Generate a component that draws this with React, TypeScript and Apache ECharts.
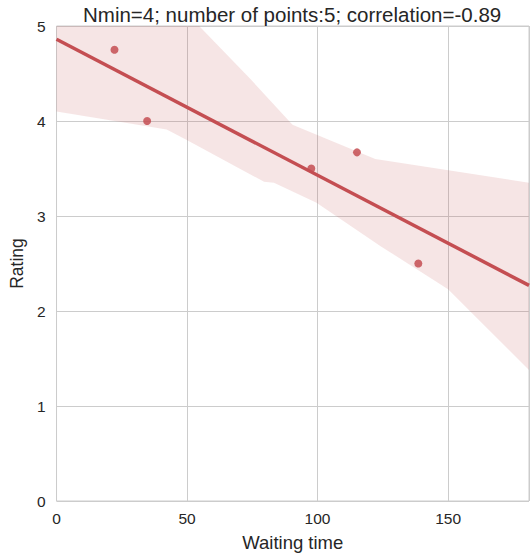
import React, { useEffect, useRef } from "react";
import * as echarts from "echarts";

const TITLE = "Nmin=4; number of points:5; correlation=-0.89";
const X_NAME = "Waiting time";
const Y_NAME = "Rating";

// scatter points (waiting time, rating)
const pointX = [22.2, 34.7, 97.6, 115.1, 138.6];
const pointY = [4.75, 4.0, 3.5, 3.67, 2.5];

// regression line end points
const lineX = [0, 181];
const lineY = [4.86, 2.27];

// confidence band edges
const upperX = [0, 55, 74, 90.4, 122.1, 181];
const upperY = [6.5, 4.99, 4.45, 3.96, 3.6, 3.35];
const lowerX = [0, 42.2, 49.9, 79.5, 83.3, 99.6, 124.3, 150, 181];
const lowerY = [4.1, 3.91, 3.8, 3.36, 3.35, 3.14, 2.68, 2.23, 1.38];

const xTicks = [0, 50, 100, 150];
const yTicks = [0, 1, 2, 3, 4, 5];

const RED = "#C44E52";
const TXT = "#262626";
const GRID = "#cccccc";
const FONT = "'Liberation Sans', Arial, sans-serif";

export default function App() {
  const ref = useRef<HTMLDivElement>(null);
  useEffect(() => {
    if (!ref.current) return;
    const chart = echarts.init(ref.current, null, { renderer: "svg" });
    const band: number[][] = [];
    upperX.forEach((x, i) => band.push([x, upperY[i]]));
    for (let i = lowerX.length - 1; i >= 0; i--) band.push([lowerX[i], lowerY[i]]);

    chart.setOption({
      animation: false,
      backgroundColor: "#ffffff",
      textStyle: { fontFamily: FONT },
      title: {
        text: TITLE,
        left: 78,
        top: -1,
        textStyle: { fontSize: 20.5, fontWeight: "normal", color: TXT, fontFamily: FONT },
      },
      grid: {
        left: 55,
        right: 0,
        top: 26,
        bottom: 54,
        show: true,
        borderColor: GRID,
        borderWidth: 1,
        backgroundColor: "transparent",
      },
      xAxis: {
        type: "value",
        min: 0,
        max: 181,
        interval: 50,
        name: X_NAME,
        nameLocation: "middle",
        nameGap: 32,
        nameTextStyle: { fontSize: 18.5, color: TXT, fontFamily: FONT },
        axisLine: { show: false },
        axisTick: { show: false },
        splitLine: { show: true, lineStyle: { color: GRID, width: 1 } },
        axisLabel: {
          fontSize: 15.5,
          color: TXT,
          margin: 9,
          fontFamily: FONT,
          formatter: (v: number) => (xTicks.includes(v) ? String(v) : ""),
        },
      },
      yAxis: {
        type: "value",
        min: 0,
        max: 5,
        interval: 1,
        name: Y_NAME,
        nameLocation: "middle",
        nameGap: 30,
        nameTextStyle: { fontSize: 17.5, color: TXT, fontFamily: FONT },
        axisLine: { show: false },
        axisTick: { show: false },
        splitLine: { show: true, lineStyle: { color: GRID, width: 1 } },
        axisLabel: {
          fontSize: 15.5,
          color: TXT,
          margin: 11,
          fontFamily: FONT,
          formatter: (v: number) => (yTicks.includes(v) ? String(v) : ""),
        },
      },
      series: [
        {
          type: "custom",
          clip: true,
          data: band,
          encode: { x: 0, y: 1 },
          renderItem: (params: any, api: any) => {
            if (params.dataIndex !== 0) return null;
            const pts = band.map((p) => api.coord(p));
            return {
              type: "polygon",
              shape: { points: pts },
              style: { fill: "rgba(196,78,82,0.15)", stroke: "none" },
            };
          },
          z: 1,
        },
        {
          type: "line",
          data: lineX.map((x, i) => [x, lineY[i]]),
          showSymbol: false,
          lineStyle: { color: RED, width: 3.5 },
          z: 3,
        },
        {
          type: "scatter",
          data: pointX.map((x, i) => [x, pointY[i]]),
          symbolSize: 8,
          itemStyle: { color: RED, opacity: 0.85 },
          z: 4,
        },
      ],
    });
    return () => chart.dispose();
  }, []);
  return (
    <div
      ref={ref}
      style={{ position: "fixed", left: 0, top: 0, width: 532, height: 557 }}
    />
  );
}
